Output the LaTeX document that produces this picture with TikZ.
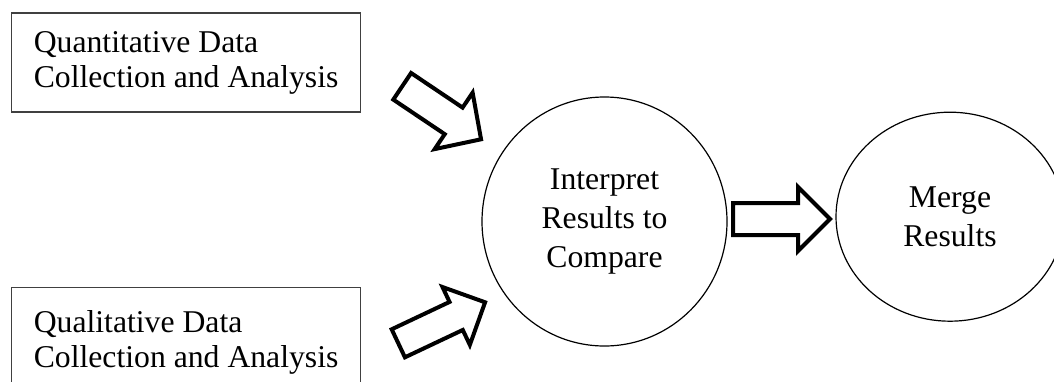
\documentclass[tikz,border=0pt]{standalone}
\usepackage{fontspec}
\setmainfont{Liberation Serif}
\usetikzlibrary{shapes.geometric}
\newcommand{\blkarrow}[7]{%
  \draw[blockarrow, shift={(#1,#2)}, rotate=#3]
    (0,-#5) -- ({#4-#7},-#5) -- ({#4-#7},-#6) -- (#4,0) -- ({#4-#7},#6) -- ({#4-#7},#5) -- (0,#5) -- cycle;}
\tikzset{
  box/.style={draw=black!75, line width=1.2pt, rectangle, align=left, inner xsep=22pt, inner ysep=2pt,
    font={\fontsize{31.7}{35}\selectfont}},
  roundnode/.style={draw=black, line width=1.2pt, ellipse, inner sep=0pt, align=center,
    font={\fontsize{31.7}{39}\selectfont}},
  blockarrow/.style={draw=black, line width=4pt, fill=white, line join=miter, miter limit=10},
}
\begin{document}
\begin{tikzpicture}[x=1pt,y=-1pt]
\useasboundingbox (0,0) rectangle (1054,381);
\clip (0,0) rectangle (1054,381);
\fill[white] (0,0) rectangle (1054,381);
\node[box, anchor=west, minimum height=99pt, minimum width=349pt] (quan) at (11,62.5)
  {Quantitative Data\\Collection and Analysis};
\node[box, anchor=north west, minimum height=109.4pt, minimum width=349pt] (qual) at (11,287)
  {Qualitative Data\\Collection and Analysis};
\node[roundnode, minimum width=245pt, minimum height=249pt] (interp) at (604.5,221.5)
  {Interpret\\Results to\\Compare};
\node[roundnode, minimum width=228pt, minimum height=209pt] (merge) at (950,216.7)
  {Merge\\Results};
\blkarrow{402.2}{86.3}{-33.9}{95}{16}{34}{33}
\blkarrow{398.3}{343.3}{25.3}{96}{15.5}{32}{32}
\blkarrow{733}{219}{0}{97}{16}{32}{32}
\end{tikzpicture}
\end{document}
